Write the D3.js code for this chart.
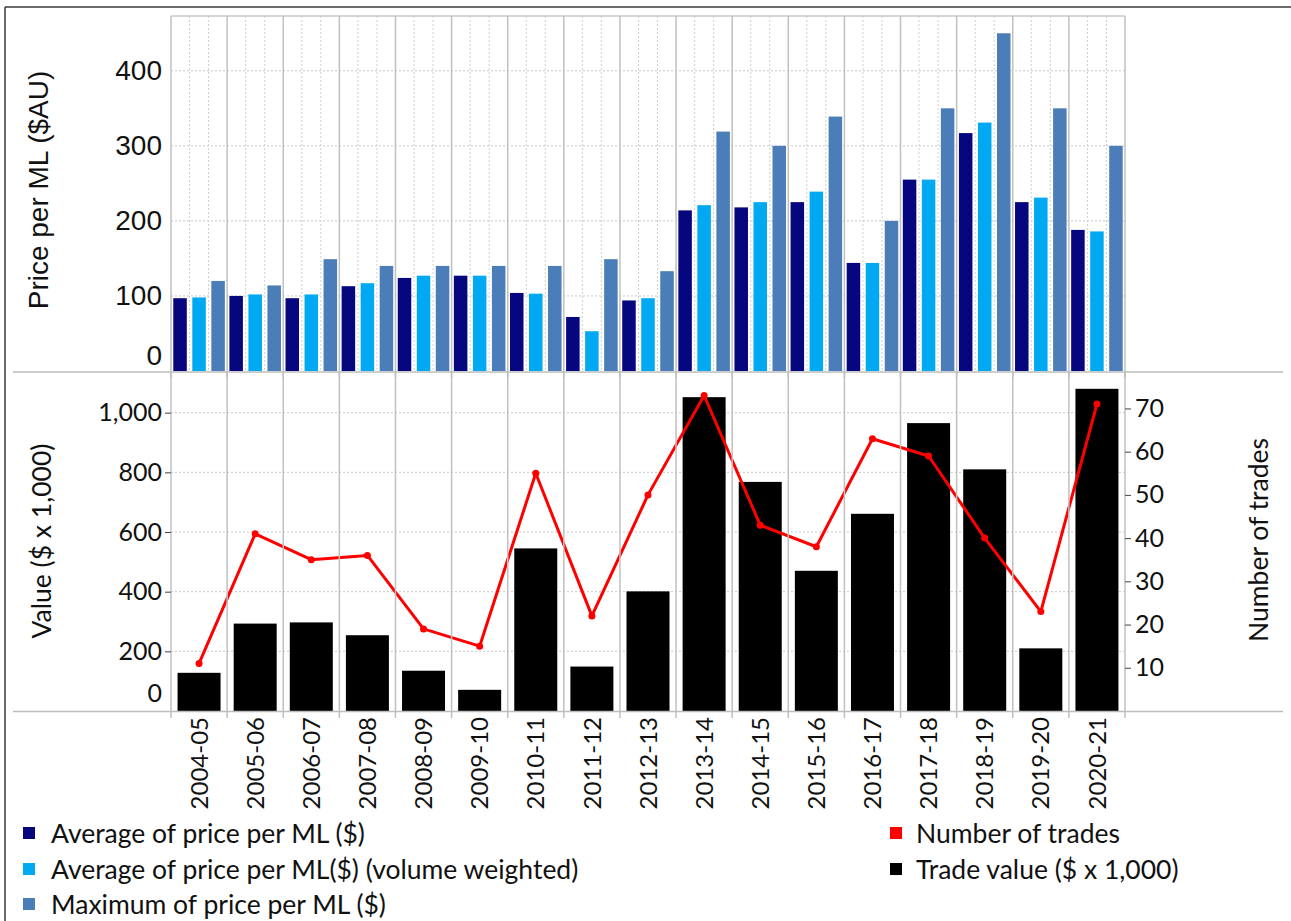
<!DOCTYPE html>
<html><head><meta charset="utf-8">
<script src="https://cdn.jsdelivr.net/npm/d3@7"></script>
<style>body{margin:0;background:#fff} svg{display:block}</style>
</head><body>
<svg id="chart" width="1291" height="921"></svg>
<script>
// ---- data ----
const categories = ["2004-05","2005-06","2006-07","2007-08","2008-09","2009-10","2010-11","2011-12","2012-13","2013-14","2014-15","2015-16","2016-17","2017-18","2018-19","2019-20","2020-21"];
const avgPrice   = [97,100,97,113,124,127,104,72,94,214,218,225,144,255,317,225,188];
const avgPriceVW = [98,102,102,117,127,127,103,53,97,221,225,239,144,255,331,231,186];
const maxPrice   = [120,114,149,140,140,140,140,149,133,319,300,339,200,350,450,350,300];
const tradeValue = [128,293,297,254,135,71,545,149,401,1052,768,470,661,965,810,210,1080];
const numTrades  = [11,41,35,36,19,15,55,22,50,73,43,38,63,59,40,23,71];
const priceTicks = [0,100,200,300,400];
const valueTicks = [0,200,400,600,800,1000];
const tradeTicks = [10,20,30,40,50,60,70];
const priceSeriesNames = ["Average of price per ML ($)","Average of price per ML($) (volume weighted)","Maximum of price per ML ($)"];
const tradeSeriesNames = ["Number of trades","Trade value ($ x 1,000)"];

// ---- styles ----
const priceColors = ["#06067e","#00a9f2","#4b7db8"];
const tradeColors = ["#ff0000","#000000"];
const calib = "Lato, 'Open Sans', sans-serif";
const arial = "'Liberation Sans', Arial, sans-serif";

const svg = d3.select("#chart");
const L = 171, R = 1125;
const topT = 16, topB = 371, botT = 373, botB = 711;

const x = d3.scaleBand().domain(categories).range([L, R]).padding(0);
const xi = d3.scaleBand().domain([0,1,2]).range([0, x.bandwidth()]).paddingInner(0.29).paddingOuter(0.12);
const yTop = d3.scaleLinear().domain([0, 473]).range([topB, topT]);
const yVal = d3.scaleLinear().domain([0, 1133]).range([botB, botT]);
const yNum = d3.scaleLinear().domain([0, 78.2]).range([botB, botT]);

// outer frame
svg.append("line").attr("x1",5).attr("x2",1291).attr("y1",7).attr("y2",7).attr("stroke","#3a3a3a").attr("stroke-width",1.5);
svg.append("line").attr("x1",5).attr("x2",5).attr("y1",7).attr("y2",921).attr("stroke","#3a3a3a").attr("stroke-width",1.5);

// ---- top panel grid ----
const gTop = svg.append("g");
gTop.selectAll(".hg").data(priceTicks.filter(d=>d>0)).join("line")
  .attr("x1",L).attr("x2",R).attr("y1",d=>yTop(d)).attr("y2",d=>yTop(d))
  .attr("stroke","#c8c8c8").attr("stroke-dasharray","2,2");
const innerGaps = [];
categories.forEach(c => { [1,2].forEach(k => innerGaps.push(x(c) + xi(k) - xi.step()*xi.paddingInner()/2)); });
gTop.selectAll(".ivg").data(innerGaps).join("line")
  .attr("x1",d=>d).attr("x2",d=>d).attr("y1",topT).attr("y2",topB)
  .attr("stroke","#cfcfcf").attr("stroke-dasharray","2,2");
gTop.append("line").attr("x1",L).attr("x2",R).attr("y1",topT).attr("y2",topT).attr("stroke","#c8c8c8").attr("stroke-width",1.5);

// bars top
const priceSeries = [avgPrice, avgPriceVW, maxPrice];
priceSeries.forEach((s, k) => {
  gTop.selectAll(".b"+k).data(categories).join("rect")
    .attr("x", c => x(c) + xi(k)).attr("width", xi.bandwidth())
    .attr("y", (c,i) => yTop(s[i])).attr("height", (c,i) => yTop(0) - yTop(s[i]))
    .attr("fill", priceColors[k]);
});

// ---- bottom panel grid ----
const gBot = svg.append("g");
gBot.selectAll(".hg").data(valueTicks.filter(d=>d>0)).join("line")
  .attr("x1",L).attr("x2",R).attr("y1",d=>yVal(d)).attr("y2",d=>yVal(d))
  .attr("stroke","#c8c8c8").attr("stroke-dasharray","2,2");

const bounds = categories.map(c => x(c)).concat([R]);
svg.selectAll(".vt").data(bounds).join("line")
  .attr("x1",d=>d).attr("x2",d=>d).attr("y1",topT).attr("y2",378)
  .attr("stroke","#c0c0c0").attr("stroke-width",1.5);
svg.selectAll(".vb").data(bounds).join("line")
  .attr("x1",d=>d).attr("x2",d=>d).attr("y1",botT).attr("y2",718)
  .attr("stroke","#c0c0c0").attr("stroke-width",1.5);

// trade value bars
const bw = 43;
gBot.selectAll(".tv").data(categories).join("rect")
  .attr("x", c => x(c) + (x.bandwidth()-bw)/2).attr("width", bw)
  .attr("y", (c,i) => yVal(tradeValue[i])).attr("height", (c,i) => yVal(0) - yVal(tradeValue[i]))
  .attr("fill", tradeColors[1]);

// number of trades line
const line = d3.line().x((d,i) => x(categories[i]) + x.bandwidth()/2).y(d => yNum(d));
gBot.append("path").datum(numTrades).attr("d", line)
  .attr("fill","none").attr("stroke",tradeColors[0]).attr("stroke-width",3).attr("stroke-linejoin","round");
gBot.selectAll(".pt").data(numTrades).join("circle")
  .attr("cx",(d,i)=> x(categories[i]) + x.bandwidth()/2).attr("cy", d=>yNum(d)).attr("r",3.5)
  .attr("fill",tradeColors[0]);

// panel separator lines
svg.append("line").attr("x1",13).attr("x2",1283).attr("y1",372).attr("y2",372).attr("stroke","#bdbdbd").attr("stroke-width",1.5);
svg.append("line").attr("x1",13).attr("x2",1283).attr("y1",711.5).attr("y2",711.5).attr("stroke","#bdbdbd").attr("stroke-width",1.5);

// ---- axes ----
const axTop = svg.append("g").attr("transform",`translate(${L},0)`)
  .call(d3.axisLeft(yTop).tickValues(priceTicks).tickSize(0).tickPadding(9));
axTop.select(".domain").remove();
axTop.selectAll("text").style("font-family",arial).style("font-size","28px").attr("fill","#111");
axTop.selectAll(".tick").filter(d=>d===0).select("text").attr("dy","-0.22em");

const axVal = svg.append("g").attr("transform",`translate(${L},0)`)
  .call(d3.axisLeft(yVal).tickValues(valueTicks).tickFormat(d3.format(",")).tickSize(6).tickPadding(3));
axVal.select(".domain").remove();
axVal.selectAll("line").attr("stroke","#444");
axVal.selectAll(".tick").filter(d=>d===0).select("line").remove();
axVal.selectAll("text").style("font-family",calib).style("font-size","25px").attr("fill","#111");
axVal.selectAll(".tick").filter(d=>d===0).select("text").attr("dy","-0.38em");

const axNum = svg.append("g").attr("transform",`translate(${R},0)`)
  .call(d3.axisRight(yNum).tickValues(tradeTicks).tickSize(6).tickPadding(4));
axNum.select(".domain").remove();
axNum.selectAll("line").attr("stroke","#444");
axNum.selectAll("text").style("font-family",calib).style("font-size","25px").attr("fill","#111");

const axX = svg.append("g").attr("transform",`translate(0,${botB})`)
  .call(d3.axisBottom(x).tickSize(0));
axX.select(".domain").remove();
axX.selectAll("text").attr("transform","rotate(-90)").attr("x",-6).attr("y",0).attr("dy","0.36em")
  .style("text-anchor","end").style("font-family",calib).style("font-size","24px").attr("fill","#111");

// axis titles
svg.append("text").attr("transform","translate(48,190) rotate(-90)").attr("text-anchor","middle")
  .style("font-family",arial).style("font-size","28px").attr("fill","#111").text("Price per ML ($AU)");
svg.append("text").attr("transform","translate(51,541) rotate(-90)").attr("text-anchor","middle")
  .style("font-family",calib).style("font-size","26.5px").attr("fill","#111").text("Value ($ x 1,000)");
svg.append("text").attr("transform","translate(1268,540) rotate(-90)").attr("text-anchor","middle")
  .style("font-family",calib).style("font-size","26.5px").attr("fill","#111").text("Number of trades");

// ---- legends ----
const rowY = [833, 869, 904];
const lg1 = svg.append("g");
priceSeriesNames.forEach((n,k) => {
  lg1.append("rect").attr("x",23).attr("y",rowY[k]-6).attr("width",12).attr("height",12).attr("fill",priceColors[k]);
  lg1.append("text").attr("x",51).attr("y",rowY[k]).attr("dy","0.36em")
    .style("font-family",calib).style("font-size","26.5px").attr("fill","#111").text(n);
});
const lg2 = svg.append("g");
tradeSeriesNames.forEach((n,k) => {
  lg2.append("rect").attr("x",890).attr("y",rowY[k]-6).attr("width",12).attr("height",12).attr("fill",tradeColors[k]);
  lg2.append("text").attr("x",916).attr("y",rowY[k]).attr("dy","0.36em")
    .style("font-family",calib).style("font-size","26.5px").attr("fill","#111").text(n);
});
</script>
</body></html>
